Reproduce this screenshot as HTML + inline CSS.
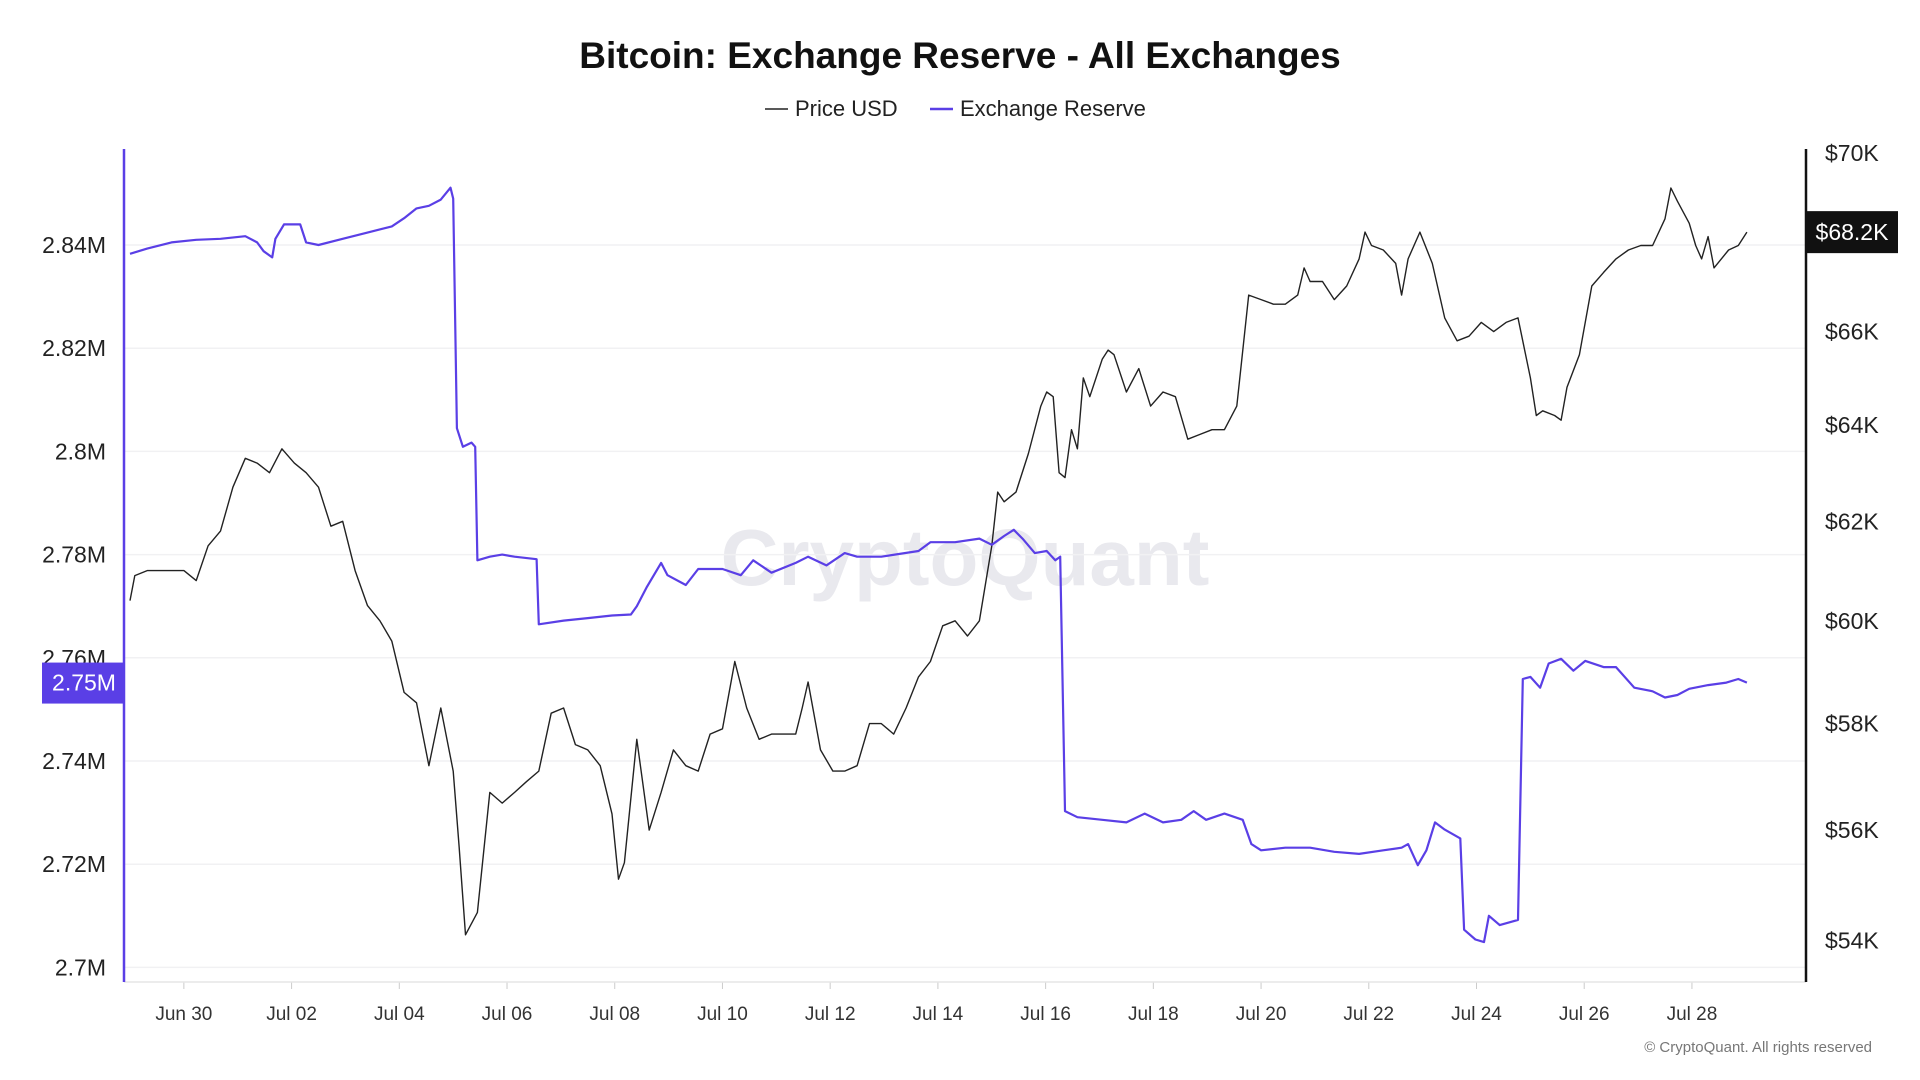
<!DOCTYPE html>
<html><head><meta charset="utf-8"><style>
html,body{margin:0;padding:0;background:#fff;width:1920px;height:1080px;overflow:hidden;font-family:"Liberation Sans",sans-serif;}
svg text{font-family:"Liberation Sans",sans-serif;}
</style></head><body>
<svg id="chart" width="1920" height="1080" xmlns="http://www.w3.org/2000/svg">
<text x="960" y="68" text-anchor="middle" font-size="37" font-weight="bold" fill="#111">Bitcoin: Exchange Reserve - All Exchanges</text>
<g>
<g><line x1="765" y1="109" x2="788" y2="109" stroke="#222" stroke-width="1.5"/><text x="795" y="116" font-size="22" fill="#222">Price USD</text></g>
<g><line x1="930" y1="109" x2="953" y2="109" stroke="#5a3fe6" stroke-width="2.5"/><text x="960" y="116" font-size="22" fill="#222">Exchange Reserve</text></g>
</g>
<text x="965" y="585" text-anchor="middle" font-size="80" font-weight="bold" fill="#e9e9ee">CryptoQuant</text>
<g id="grid"></g><g id="axes"></g><g id="series"></g><g id="overlay"></g>
<text x="1872" y="1052" text-anchor="end" font-size="15" fill="#777">© CryptoQuant. All rights reserved</text>
</svg>
<script>
const priceDays=[0,0.09,0.32,0.55,0.77,1.0,1.23,1.45,1.68,1.91,2.14,2.36,2.59,2.82,3.05,3.27,3.5,3.73,3.95,4.18,4.41,4.64,4.86,5.09,5.32,5.55,5.77,6.0,6.11,6.23,6.45,6.68,6.91,7.14,7.36,7.59,7.82,8.05,8.27,8.5,8.73,8.95,9.07,9.18,9.41,9.64,9.86,10.09,10.32,10.55,10.77,11.0,11.23,11.45,11.68,11.91,12.14,12.36,12.48,12.59,12.82,13.05,13.27,13.5,13.73,13.95,14.18,14.41,14.64,14.86,15.09,15.32,15.55,15.77,16.0,16.11,16.23,16.45,16.68,16.91,17.02,17.14,17.25,17.36,17.48,17.59,17.7,17.82,18.05,18.16,18.27,18.5,18.73,18.95,19.18,19.41,19.64,19.86,20.09,20.32,20.55,20.77,21.0,21.23,21.45,21.68,21.8,21.91,22.14,22.36,22.59,22.82,22.93,23.05,23.27,23.5,23.61,23.73,23.95,24.18,24.41,24.64,24.86,25.09,25.32,25.55,25.77,26.0,26.11,26.23,26.45,26.57,26.68,26.91,27.14,27.36,27.59,27.82,28.05,28.27,28.5,28.61,28.73,28.95,29.07,29.18,29.3,29.41,29.68,29.86,30.02];
const priceK=[60.4,60.9,61.0,61.0,61.0,61.0,60.8,61.5,61.8,62.7,63.3,63.2,63.0,63.5,63.2,63.0,62.7,61.9,62.0,61.0,60.3,60.0,59.6,58.6,58.4,57.2,58.3,57.1,55.7,54.1,54.5,56.7,56.5,56.7,56.9,57.1,58.2,58.3,57.6,57.5,57.2,56.3,55.1,55.4,57.7,56.0,56.7,57.5,57.2,57.1,57.8,57.9,59.2,58.3,57.7,57.8,57.8,57.8,58.3,58.8,57.5,57.1,57.1,57.2,58.0,58.0,57.8,58.3,58.9,59.2,59.9,60.0,59.7,60.0,61.5,62.6,62.4,62.6,63.4,64.4,64.7,64.6,63.0,62.9,63.9,63.5,65.0,64.6,65.4,65.6,65.5,64.7,65.2,64.4,64.7,64.6,63.7,63.8,63.9,63.9,64.4,66.8,66.7,66.6,66.6,66.8,67.4,67.1,67.1,66.7,67.0,67.6,68.2,67.9,67.8,67.5,66.8,67.6,68.2,67.5,66.3,65.8,65.9,66.2,66.0,66.2,66.3,65.0,64.2,64.3,64.2,64.1,64.8,65.5,67.0,67.3,67.6,67.8,67.9,67.9,68.5,69.2,68.9,68.4,67.9,67.6,68.1,67.4,67.8,67.9,68.2];
const reserveDays=[0,0.32,0.77,1.23,1.68,2.14,2.36,2.48,2.64,2.7,2.86,3.16,3.27,3.5,3.95,4.41,4.86,5.09,5.32,5.55,5.77,5.95,6.0,6.07,6.18,6.34,6.41,6.45,6.68,6.91,7.14,7.55,7.59,8.05,8.5,8.95,9.3,9.41,9.59,9.86,9.98,10.32,10.55,11.0,11.34,11.57,11.91,12.36,12.59,12.93,13.27,13.5,13.95,14.64,14.86,15.32,15.77,16.0,16.23,16.41,16.57,16.8,17.02,17.18,17.27,17.36,17.59,18.05,18.5,18.84,19.18,19.52,19.75,19.98,20.32,20.66,20.82,21.0,21.45,21.91,22.36,22.82,23.27,23.61,23.73,23.91,24.07,24.23,24.41,24.7,24.77,24.98,25.14,25.23,25.43,25.77,25.86,26.0,26.18,26.34,26.57,26.8,27.02,27.36,27.59,27.93,28.27,28.5,28.73,28.95,29.3,29.64,29.86,30.02];
const reserveM=[2.8383,2.8393,2.8405,2.841,2.8412,2.8417,2.8405,2.8388,2.8376,2.8412,2.844,2.844,2.8405,2.84,2.8412,2.8424,2.8436,2.8452,2.8471,2.8476,2.8488,2.8511,2.849,2.8045,2.8009,2.8017,2.8009,2.7789,2.7796,2.78,2.7796,2.7791,2.7665,2.7672,2.7677,2.7682,2.7684,2.77,2.7736,2.7784,2.776,2.7741,2.7772,2.7772,2.776,2.7789,2.7765,2.7784,2.7796,2.7779,2.7803,2.7796,2.7796,2.7807,2.7824,2.7824,2.7831,2.7819,2.7836,2.7848,2.7831,2.7803,2.7807,2.7789,2.7796,2.7303,2.7291,2.7286,2.7281,2.7298,2.7281,2.7286,2.7303,2.7286,2.7298,2.7286,2.7239,2.7227,2.7232,2.7232,2.7224,2.722,2.7227,2.7232,2.7239,2.7198,2.7227,2.7281,2.7267,2.725,2.7073,2.7054,2.7049,2.71,2.7082,2.7092,2.7559,2.7563,2.7542,2.7589,2.7598,2.7575,2.7594,2.7582,2.7582,2.7542,2.7535,2.7523,2.7528,2.754,2.7547,2.7552,2.7559,2.7552];
const leftTicks=[2.7,2.72,2.74,2.76,2.78,2.8,2.82,2.84];
const leftTickLabels=["2.7M","2.72M","2.74M","2.76M","2.78M","2.8M","2.82M","2.84M"];
const rightTicks=[54,56,58,60,62,64,66,68,70];
const rightTickLabels=["$54K","$56K","$58K","$60K","$62K","$64K","$66K","$68K","$70K"];
const xTickDays=[1,3,5,7,9,11,13,15,17,19,21,23,25,27,29];
const xTickLabels=["Jun 30","Jul 02","Jul 04","Jul 06","Jul 08","Jul 10","Jul 12","Jul 14","Jul 16","Jul 18","Jul 20","Jul 22","Jul 24","Jul 26","Jul 28"];
const lastPriceLabel="$68.2K", lastReserveLabel="2.75M";
const lastReserveValue=2.7552, lastPriceValue=68.2;

const NS="http://www.w3.org/2000/svg";
const X0=130,PX_DAY=53.86,PL=124,PR=1806,PT=149,PB=982;
const xS=d=>X0+d*PX_DAY;
const yL=v=>245+(2.84-v)/0.02*103.2;
const yR=p=>940.4-Math.log(p/54)/Math.log(70/54)*787.3;
function mk(tag,attrs,parent,txt){const e=document.createElementNS(NS,tag);for(const k in attrs)e.setAttribute(k,attrs[k]);if(txt!==undefined)e.textContent=txt;parent.appendChild(e);return e;}
const grid=document.getElementById('grid'),axes=document.getElementById('axes'),series=document.getElementById('series'),ov=document.getElementById('overlay');
leftTicks.forEach((v,i)=>{
  const g=mk('line',{x1:PL,x2:PR,y1:yL(v),y2:yL(v),stroke:'#f1f1f3','stroke-width':1.5},grid);
  
  
  const t=mk('text',{x:106,y:yL(v)+8,'text-anchor':'end','font-size':23,fill:'#222'},axes,leftTickLabels[i]);
  
  
});
rightTicks.forEach((v,i)=>{
  const t=mk('text',{x:1825,y:yR(v)+8,'font-size':23,fill:'#222'},axes,rightTickLabels[i]);
  
  
});
xTickDays.forEach((d,i)=>{
  const tk=mk('line',{x1:xS(d),x2:xS(d),y1:PB,y2:PB+7,stroke:'#ccc','stroke-width':1},axes);
  
  
  const t=mk('text',{x:xS(d),y:1020,'text-anchor':'middle','font-size':19,fill:'#333'},axes,xTickLabels[i]);
  
  
});
const xa=mk('line',{x1:PL,x2:PR,y1:PB,y2:PB,stroke:'#e6e6e6','stroke-width':1.5},axes);


const la=mk('line',{x1:PL,x2:PL,y1:PT,y2:PB,stroke:'#5a3fe6','stroke-width':2.5},axes);


const ra=mk('line',{x1:PR,x2:PR,y1:PT,y2:PB,stroke:'#111','stroke-width':2.5},axes);


const pp=mk('path',{d:priceDays.map((d,i)=>(i?'L':'M')+xS(d).toFixed(1)+','+yR(priceK[i]).toFixed(1)).join(''),fill:'none',stroke:'#222','stroke-width':1.4,'stroke-linejoin':'round'},series);


const rp=mk('path',{d:reserveDays.map((d,i)=>(i?'L':'M')+xS(d).toFixed(1)+','+yL(reserveM[i]).toFixed(1)).join(''),fill:'none',stroke:'#5a3fe6','stroke-width':2.2,'stroke-linejoin':'round'},series);


const ry=yL(lastReserveValue);
const rb=mk('rect',{x:42,y:ry-20,width:82,height:41,fill:'#5a3fe6'},ov);


const rt=mk('text',{x:84,y:ry+8,'text-anchor':'middle','font-size':23,fill:'#fff'},ov,lastReserveLabel);


const py=yR(lastPriceValue);
const pb=mk('rect',{x:1807,y:py-21,width:91,height:42,fill:'#111'},ov);


const pt=mk('text',{x:1852,y:py+8,'text-anchor':'middle','font-size':23,fill:'#fff'},ov,lastPriceLabel);


</script>
</body></html>
